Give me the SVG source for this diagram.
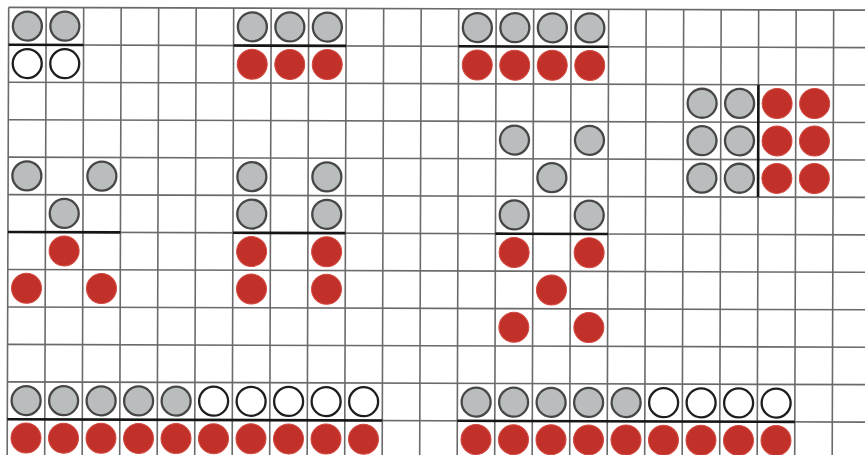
<svg xmlns="http://www.w3.org/2000/svg" width="865" height="455" viewBox="0 0 865 455">
<style>
.grid{stroke:#6a6a6a;stroke-width:1.6;fill:none}
.sep{stroke:#151515;stroke-width:2.6;fill:none;stroke-linecap:butt}
.g{fill:#babdbd;stroke:#474747;stroke-width:2.3}
.w{fill:#ffffff;stroke:#1e1e1e;stroke-width:2.3}
.r{fill:#c2302a;stroke:#d24a40;stroke-width:1}
</style>
<rect width="865" height="455" fill="#ffffff"/>
<g transform="rotate(0.19)">
<g id="grid" class="grid">
<path d="M8.7 7.3V462M46.2 7.3V462M83.7 7.3V462M121.2 7.3V462M158.7 7.3V462M196.2 7.3V462M233.7 7.3V462M271.2 7.3V462M308.7 7.3V462M346.2 7.3V462M383.7 7.3V462M421.2 7.3V462M458.7 7.3V462M496.2 7.3V462M533.7 7.3V462M571.2 7.3V462M608.7 7.3V462M646.2 7.3V462M683.7 7.3V462M721.2 7.3V462M758.7 7.3V462M796.2 7.3V462M833.7 7.3V462"/>
<path d="M8.7 7.3H870M8.7 44.75H870M8.7 82.2H870M8.7 119.65H870M8.7 157.1H870M8.7 194.55H870M8.7 232H870M8.7 269.45H870M8.7 306.9H870M8.7 344.35H870M8.7 381.8H870M8.7 419.25H870"/>
</g>
<g id="separators" class="sep">
<path d="M8.7 44.75H83.7M233.7 44.75H346.2M458.7 44.75H608.7"/>
<path d="M8.7 232H121.2M233.7 232H346.2M496.2 232H608.7"/>
<path d="M758.7 82.2V194.55"/>
<path d="M8.7 419.25H383.7M458.7 419.25H796.2"/>
</g>
<g id="group-a">
<circle class="g" cx="27.45" cy="26" r="14.5"/>
<circle class="g" cx="64.95" cy="26" r="14.5"/>
<circle class="w" cx="27.45" cy="63.45" r="14.5"/>
<circle class="w" cx="64.95" cy="63.45" r="14.5"/>
</g>
<g id="group-b">
<circle class="g" cx="252.45" cy="26" r="14.5"/>
<circle class="g" cx="289.95" cy="26" r="14.5"/>
<circle class="g" cx="327.45" cy="26" r="14.5"/>
<circle class="r" cx="252.45" cy="63.45" r="15"/>
<circle class="r" cx="289.95" cy="63.45" r="15"/>
<circle class="r" cx="327.45" cy="63.45" r="15"/>
</g>
<g id="group-c">
<circle class="g" cx="477.45" cy="26" r="14.5"/>
<circle class="g" cx="514.95" cy="26" r="14.5"/>
<circle class="g" cx="552.45" cy="26" r="14.5"/>
<circle class="g" cx="589.95" cy="26" r="14.5"/>
<circle class="r" cx="477.45" cy="63.45" r="15"/>
<circle class="r" cx="514.95" cy="63.45" r="15"/>
<circle class="r" cx="552.45" cy="63.45" r="15"/>
<circle class="r" cx="589.95" cy="63.45" r="15"/>
</g>
<g id="group-d">
<circle class="g" cx="702.45" cy="100.9" r="14.5"/>
<circle class="g" cx="739.95" cy="100.9" r="14.5"/>
<circle class="r" cx="777.45" cy="100.9" r="15"/>
<circle class="r" cx="814.95" cy="100.9" r="15"/>
<circle class="g" cx="702.45" cy="138.35" r="14.5"/>
<circle class="g" cx="739.95" cy="138.35" r="14.5"/>
<circle class="r" cx="777.45" cy="138.35" r="15"/>
<circle class="r" cx="814.95" cy="138.35" r="15"/>
<circle class="g" cx="702.45" cy="175.8" r="14.5"/>
<circle class="g" cx="739.95" cy="175.8" r="14.5"/>
<circle class="r" cx="777.45" cy="175.8" r="15"/>
<circle class="r" cx="814.95" cy="175.8" r="15"/>
</g>
<g id="group-e">
<circle class="g" cx="27.45" cy="175.8" r="14.5"/>
<circle class="g" cx="102.45" cy="175.8" r="14.5"/>
<circle class="g" cx="64.95" cy="213.25" r="14.5"/>
<circle class="r" cx="64.95" cy="250.7" r="15"/>
<circle class="r" cx="27.45" cy="288.15" r="15"/>
<circle class="r" cx="102.45" cy="288.15" r="15"/>
</g>
<g id="group-f">
<circle class="g" cx="252.45" cy="175.8" r="14.5"/>
<circle class="g" cx="327.45" cy="175.8" r="14.5"/>
<circle class="g" cx="252.45" cy="213.25" r="14.5"/>
<circle class="g" cx="327.45" cy="213.25" r="14.5"/>
<circle class="r" cx="252.45" cy="250.7" r="15"/>
<circle class="r" cx="327.45" cy="250.7" r="15"/>
<circle class="r" cx="252.45" cy="288.15" r="15"/>
<circle class="r" cx="327.45" cy="288.15" r="15"/>
</g>
<g id="group-g">
<circle class="g" cx="514.95" cy="138.35" r="14.5"/>
<circle class="g" cx="589.95" cy="138.35" r="14.5"/>
<circle class="g" cx="552.45" cy="175.8" r="14.5"/>
<circle class="g" cx="514.95" cy="213.25" r="14.5"/>
<circle class="g" cx="589.95" cy="213.25" r="14.5"/>
<circle class="r" cx="514.95" cy="250.7" r="15"/>
<circle class="r" cx="589.95" cy="250.7" r="15"/>
<circle class="r" cx="552.45" cy="288.15" r="15"/>
<circle class="r" cx="514.95" cy="325.6" r="15"/>
<circle class="r" cx="589.95" cy="325.6" r="15"/>
</g>
<g id="group-h">
<circle class="g" cx="27.45" cy="400.5" r="14.5"/>
<circle class="g" cx="64.95" cy="400.5" r="14.5"/>
<circle class="g" cx="102.45" cy="400.5" r="14.5"/>
<circle class="g" cx="139.95" cy="400.5" r="14.5"/>
<circle class="g" cx="177.45" cy="400.5" r="14.5"/>
<circle class="w" cx="214.95" cy="400.5" r="14.5"/>
<circle class="w" cx="252.45" cy="400.5" r="14.5"/>
<circle class="w" cx="289.95" cy="400.5" r="14.5"/>
<circle class="w" cx="327.45" cy="400.5" r="14.5"/>
<circle class="w" cx="364.95" cy="400.5" r="14.5"/>
<circle class="r" cx="27.45" cy="437.95" r="15"/>
<circle class="r" cx="64.95" cy="437.95" r="15"/>
<circle class="r" cx="102.45" cy="437.95" r="15"/>
<circle class="r" cx="139.95" cy="437.95" r="15"/>
<circle class="r" cx="177.45" cy="437.95" r="15"/>
<circle class="r" cx="214.95" cy="437.95" r="15"/>
<circle class="r" cx="252.45" cy="437.95" r="15"/>
<circle class="r" cx="289.95" cy="437.95" r="15"/>
<circle class="r" cx="327.45" cy="437.95" r="15"/>
<circle class="r" cx="364.95" cy="437.95" r="15"/>
</g>
<g id="group-i">
<circle class="g" cx="477.45" cy="400.5" r="14.5"/>
<circle class="g" cx="514.95" cy="400.5" r="14.5"/>
<circle class="g" cx="552.45" cy="400.5" r="14.5"/>
<circle class="g" cx="589.95" cy="400.5" r="14.5"/>
<circle class="g" cx="627.45" cy="400.5" r="14.5"/>
<circle class="w" cx="664.95" cy="400.5" r="14.5"/>
<circle class="w" cx="702.45" cy="400.5" r="14.5"/>
<circle class="w" cx="739.95" cy="400.5" r="14.5"/>
<circle class="w" cx="777.45" cy="400.5" r="14.5"/>
<circle class="r" cx="477.45" cy="437.95" r="15"/>
<circle class="r" cx="514.95" cy="437.95" r="15"/>
<circle class="r" cx="552.45" cy="437.95" r="15"/>
<circle class="r" cx="589.95" cy="437.95" r="15"/>
<circle class="r" cx="627.45" cy="437.95" r="15"/>
<circle class="r" cx="664.95" cy="437.95" r="15"/>
<circle class="r" cx="702.45" cy="437.95" r="15"/>
<circle class="r" cx="739.95" cy="437.95" r="15"/>
<circle class="r" cx="777.45" cy="437.95" r="15"/>
</g>
</g>
</svg>
